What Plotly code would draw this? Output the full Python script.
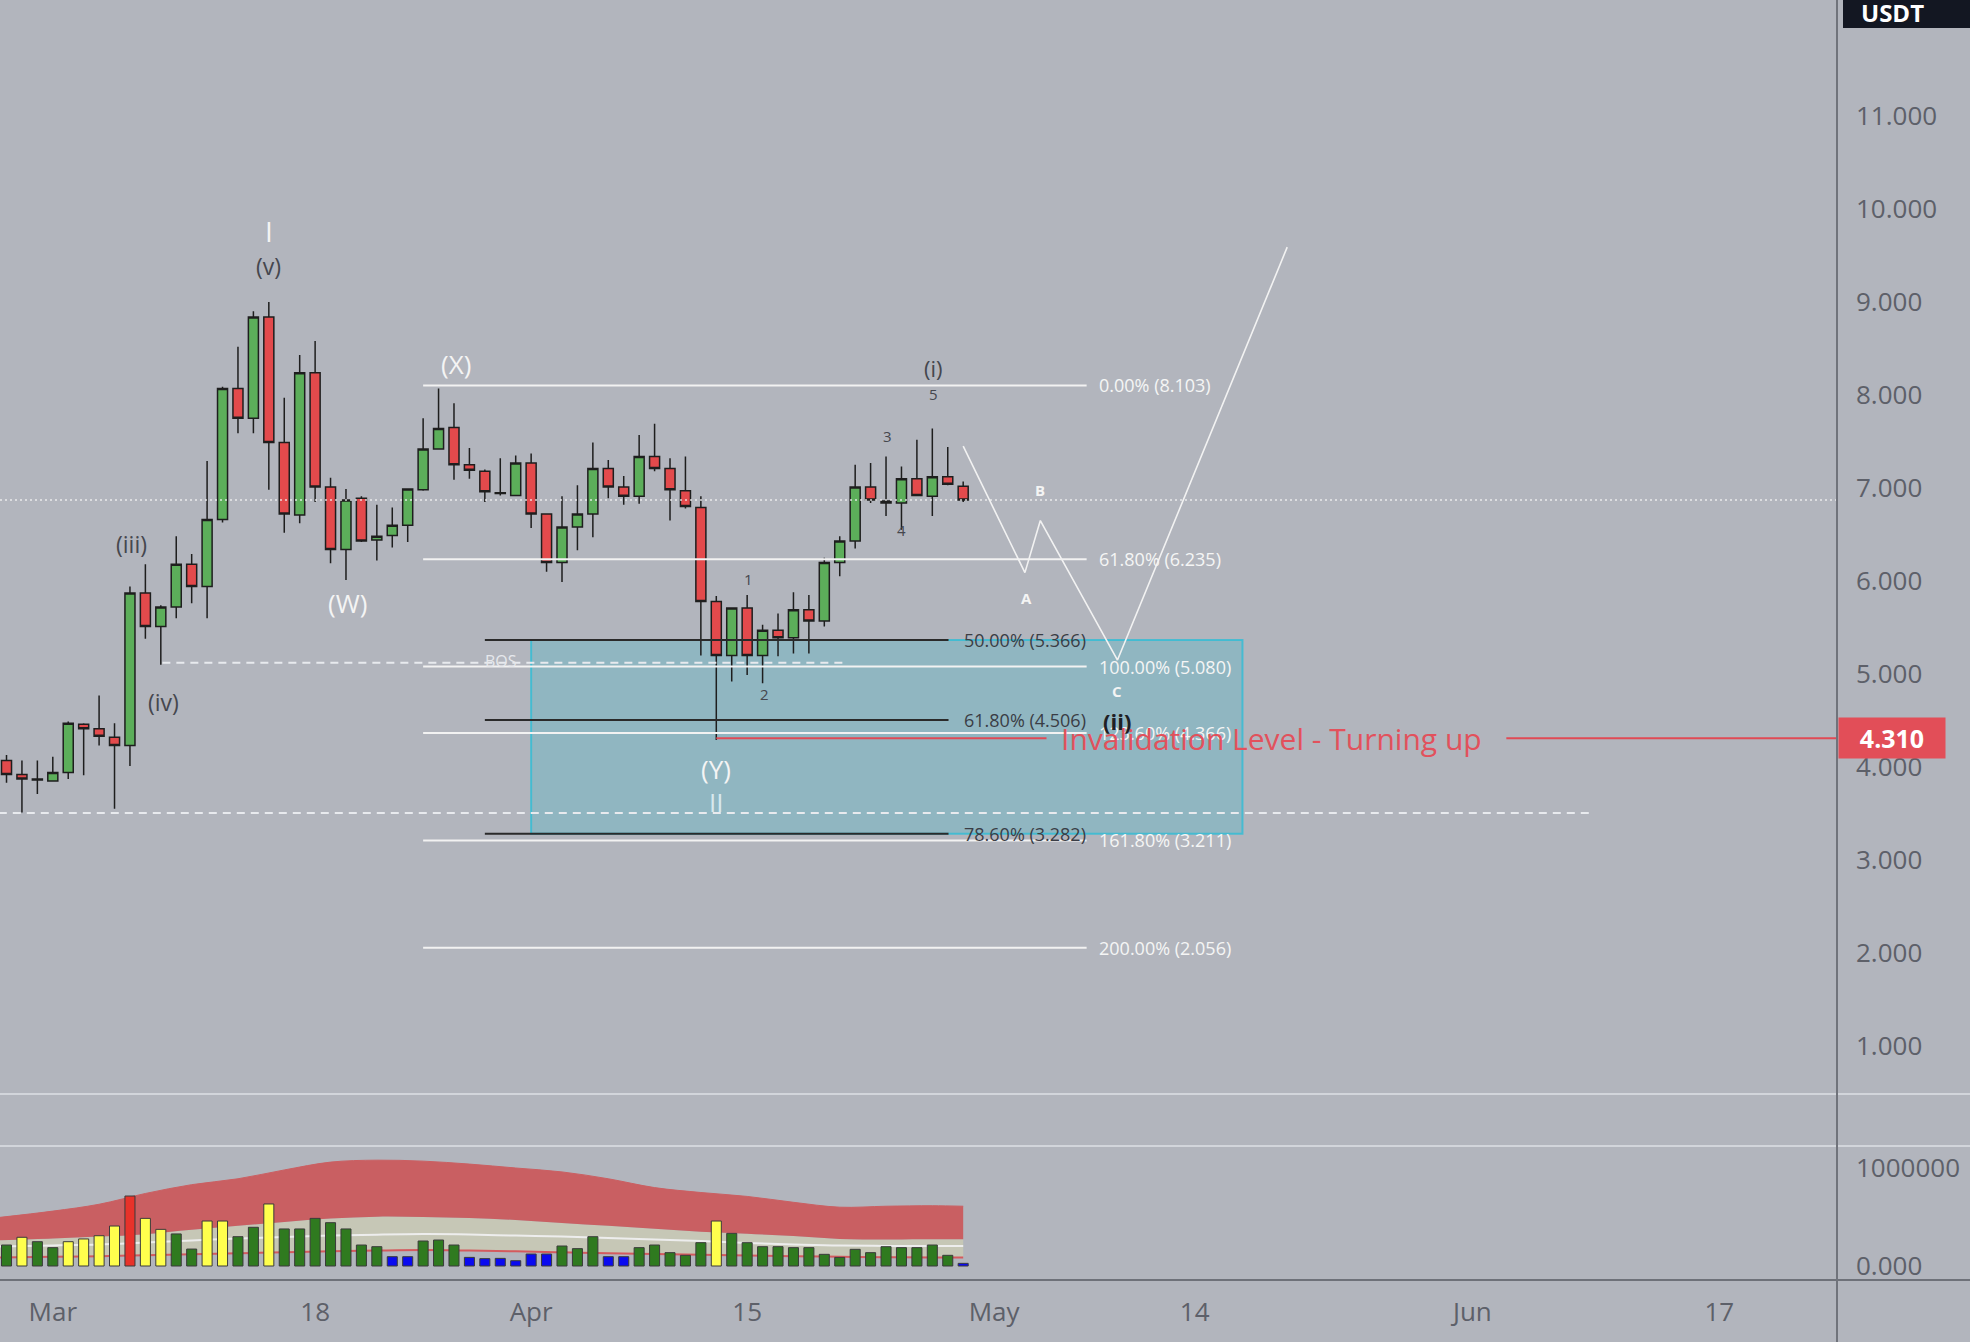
import pandas as pd
import plotly.graph_objects as go

# ---------------- data ----------------
START = "2024-02-27"          # first visible daily candle
MAR1 = pd.Timestamp("2024-03-01")

opens = [4.07, 3.92, 3.87, 3.85, 3.94, 4.46, 4.41, 4.32, 4.23, 5.87, 5.51, 5.72, 6.18, 5.94, 6.66, 8.07,
         7.75, 8.84, 7.49, 6.71, 8.24, 7.01, 6.34, 6.89, 6.44, 6.49, 6.60, 6.98, 7.42, 7.65, 7.25, 7.18,
         6.95, 6.92, 7.27, 6.72, 6.20, 6.58, 6.72, 7.21, 7.01, 6.91, 7.34, 7.21, 6.97, 6.79, 5.78, 5.20,
         5.71, 5.20, 5.47, 5.39, 5.69, 5.57, 6.20, 6.43, 7.01, 6.86, 6.84, 7.10, 6.91, 7.12, 7.02]
highs = [4.13, 4.07, 4.07, 4.11, 4.49, 4.47, 4.77, 4.47, 5.94, 6.18, 5.74, 6.48, 6.29, 7.29, 8.09, 8.52,
         8.90, 9.00, 7.97, 8.43, 8.58, 7.11, 6.99, 6.91, 6.82, 6.79, 6.99, 7.75, 8.07, 7.91, 7.43, 7.20,
         7.32, 7.35, 7.37, 6.72, 6.91, 7.03, 7.49, 7.30, 7.13, 7.57, 7.69, 7.32, 7.34, 6.91, 5.84, 5.71,
         5.85, 5.53, 5.65, 5.88, 5.85, 6.25, 6.48, 7.25, 7.27, 7.34, 7.23, 7.52, 7.64, 7.44, 7.07]
lows = [3.83, 3.51, 3.71, 3.85, 3.87, 3.91, 4.23, 3.55, 4.01, 5.38, 5.10, 5.60, 5.76, 5.60, 6.63, 7.59,
        7.59, 6.98, 6.52, 6.62, 6.85, 6.19, 6.01, 6.42, 6.22, 6.36, 6.42, 6.97, 7.41, 7.09, 7.10, 6.85,
        6.92, 6.91, 6.57, 6.10, 5.99, 6.33, 6.47, 6.89, 6.82, 6.83, 7.18, 6.65, 6.78, 5.20, 4.29, 4.92,
        4.99, 4.90, 5.19, 5.22, 5.22, 5.51, 6.05, 6.35, 6.84, 6.70, 6.55, 6.91, 6.70, 7.03, 6.85]
closes = [3.92, 3.87, 3.86, 3.94, 4.47, 4.41, 4.33, 4.23, 5.87, 5.51, 5.72, 6.18, 5.94, 6.66, 8.07, 7.75,
          8.84, 7.49, 6.72, 8.24, 7.01, 6.34, 6.87, 6.43, 6.48, 6.60, 6.99, 7.42, 7.64, 7.25, 7.19, 6.96,
          6.94, 7.27, 6.72, 6.20, 6.58, 6.72, 7.21, 7.01, 6.91, 7.34, 7.21, 6.98, 6.80, 5.78, 5.20, 5.71,
          5.20, 5.47, 5.39, 5.69, 5.57, 6.20, 6.43, 7.01, 6.87, 6.84, 7.10, 6.92, 7.12, 7.04, 6.87]
volumes = [214000, 293000, 248000, 187000, 248000, 276000, 309000, 408000, 714000, 486000, 374000,
           327000, 173000, 459000, 459000, 299000, 395000, 633000, 378000, 378000, 486000, 442000,
           378000, 214000, 197000, 95000, 95000, 255000, 265000, 214000, 88000, 75000, 78000, 54000,
           122000, 122000, 204000, 177000, 299000, 95000, 95000, 187000, 214000, 136000, 109000,
           238000, 459000, 333000, 238000, 197000, 197000, 187000, 187000, 119000, 88000, 170000,
           136000, 197000, 187000, 187000, 214000, 109000, 27000]
vol_kind = ["g", "y", "g", "g", "y", "y", "y", "y", "r", "y", "y", "g", "g", "y", "y", "g", "g", "y",
            "g", "g", "g", "g", "g", "g", "g", "b", "b", "g", "g", "g", "b", "b", "b", "b", "b", "b",
            "g", "g", "g", "b", "b", "g", "g", "g", "g", "g", "y", "g", "g", "g", "g", "g", "g", "g",
            "g", "g", "g", "g", "g", "g", "g", "g", "b"]

# volume band indicator (day offsets from Mar 1), values in volume units
band_days = [-3.5, 0, 3, 6, 9, 12, 15, 18, 21, 24, 27, 30, 33, 36, 39, 42, 45, 48, 51, 54, 57, 59]
band_upper = [495000, 560000, 630000, 740000, 830000, 890000, 980000, 1060000, 1080000, 1070000, 1040000,
              1000000, 960000, 890000, 800000, 750000, 710000, 650000, 600000, 610000, 615000, 610000]
band_mid = [263000, 280000, 300000, 325000, 370000, 410000, 450000, 485000, 503000, 500000, 490000,
            470000, 440000, 410000, 380000, 350000, 330000, 305000, 275000, 270000, 272000, 272000]
band_avg = [198000, 210000, 220000, 240000, 260000, 280000, 295000, 310000, 320000, 326000, 322000,
            310000, 300000, 285000, 270000, 255000, 235000, 220000, 208000, 205000, 204000, 204000]
band_lower = [87000, 95000, 100000, 110000, 120000, 130000, 140000, 150000, 158000, 163000, 158000,
              150000, 140000, 129000, 122000, 115000, 108000, 100000, 95000, 90000, 88000, 88000]

# Fibonacci levels
fib_right_levels = [8.103, 6.235, 5.080, 4.366, 3.211, 2.056]
fib_right_labels = ["0.00% (8.103)", "61.80% (6.235)", "100.00% (5.080)", "123.60% (4.366)",
                    "161.80% (3.211)", "200.00% (2.056)"]
fib_left_levels = [5.366, 4.506, 3.282]
fib_left_labels = ["50.00% (5.366)", "61.80% (4.506)", "78.60% (3.282)"]

# projected A-B-C path (day offset, price)
proj_days = [59, 63, 64, 69, 80]
proj_prices = [7.45, 6.09, 6.65, 5.15, 9.59]

invalidation = 4.310
bos_level = 5.12
support_level = 3.505

price_ticks = [1, 2, 3, 4, 5, 6, 7, 8, 9, 10, 11]
date_ticks = ["2024-03-01", "2024-03-18", "2024-04-01", "2024-04-15", "2024-05-01",
              "2024-05-14", "2024-06-01", "2024-06-17"]
date_ticktext = ["Mar", "18", "Apr", "15", "May", "14", "Jun", "17"]

# ---------------- helpers ----------------
BG = "#B2B5BD"
FONT = "Open Sans"
AXIS_TXT = "#5D6069"
DARK_LBL = "#45474E"


def d(k):
    return (MAR1 + pd.Timedelta(days=k)).strftime("%Y-%m-%d %H:%M:%S")


dates = pd.date_range(START, periods=len(opens), freq="D")
band_x = [d(k) for k in band_days]
vol_cmap = {"g": "#2F7A1F", "y": "#FFFF4D", "r": "#E8322A", "b": "#0A0AF0"}

fig = go.Figure()

# volume bands (y2)
fig.add_trace(go.Scatter(x=band_x, y=band_lower, mode="lines", line=dict(color="#D45A5E", width=2, shape="spline"),
                         yaxis="y2", hoverinfo="skip"))
fig.add_trace(go.Scatter(x=band_x, y=band_mid, mode="lines", line=dict(color="#C6C7B6", width=0, shape="spline"),
                         fill="tonexty", fillcolor="#C6C7B6", yaxis="y2", hoverinfo="skip"))
fig.add_trace(go.Scatter(x=band_x, y=band_upper, mode="lines", line=dict(color="#CB5F62", width=1, shape="spline"),
                         fill="tonexty", fillcolor="#C95F62", yaxis="y2", hoverinfo="skip"))
fig.add_trace(go.Scatter(x=band_x, y=band_avg, mode="lines", line=dict(color="#EDEDED", width=2, shape="spline"),
                         yaxis="y2", hoverinfo="skip"))
# volume bars on an overlaying axis so they sit above the bands
fig.add_trace(go.Bar(x=dates, y=volumes, marker=dict(color=[vol_cmap[c] for c in vol_kind],
                                                     line=dict(color="#3A3A3A", width=1)),
                     yaxis="y3", hoverinfo="skip"))

# candles
fig.add_trace(go.Candlestick(x=dates, open=opens, high=highs, low=lows, close=closes,
                             increasing=dict(fillcolor="#5CAE5A", line=dict(color="#1E1E1E", width=1.5)),
                             decreasing=dict(fillcolor="#E34A4C", line=dict(color="#1E1E1E", width=1.5)),
                             whiskerwidth=0, yaxis="y", hoverinfo="skip"))

# projection path
fig.add_trace(go.Scatter(x=[d(k) for k in proj_days], y=proj_prices, mode="lines",
                         line=dict(color="#F2F2F2", width=1.6), yaxis="y", hoverinfo="skip"))

shapes = []
# zone box
shapes.append(dict(type="rect", xref="x", yref="y", x0=d(31), x1=d(77.1), y0=fib_left_levels[2],
                   y1=fib_left_levels[0], fillcolor="rgba(0,188,212,0.19)",
                   line=dict(color="rgba(40,190,215,0.75)", width=2), layer="below"))
# right fib lines
for lv in fib_right_levels:
    shapes.append(dict(type="line", xref="x", yref="y", x0=d(24), x1=d(67), y0=lv, y1=lv,
                       line=dict(color="#F2F2F2", width=2)))
# left fib lines
for lv in fib_left_levels:
    shapes.append(dict(type="line", xref="x", yref="y", x0=d(28), x1=d(58.05), y0=lv, y1=lv,
                       line=dict(color="#2A2A2A", width=2)))
# BOS dashed
shapes.append(dict(type="line", xref="x", yref="y", x0=d(7.1), x1=d(51.2), y0=bos_level, y1=bos_level,
                   line=dict(color="#E8EAEE", width=2, dash="8px,6px")))
# lower dashed support
shapes.append(dict(type="line", xref="x", yref="y", x0=d(-3.5), x1=d(99.6), y0=support_level, y1=support_level,
                   line=dict(color="#E8EAEE", width=2, dash="8px,6px")))
# current price dotted line
shapes.append(dict(type="line", xref="paper", yref="y", x0=0, x1=1, y0=closes[-1], y1=closes[-1],
                   line=dict(color="rgba(245,245,245,0.85)", width=1.5, dash="2px,3px")))
# invalidation line segments
shapes.append(dict(type="line", xref="x", yref="y", x0=d(43), x1=d(64.4), y0=invalidation, y1=invalidation,
                   line=dict(color="#E04A55", width=2)))
shapes.append(dict(type="line", xref="x", yref="y", x0=d(94.2), x1=d(116), y0=invalidation, y1=invalidation,
                   line=dict(color="#E04A55", width=2)))
# pane separators & axis lines
PH = 1280.0
shapes.append(dict(type="line", xref="paper", yref="paper", x0=0, x1=1.08, y0=(PH - 1094) / PH, y1=(PH - 1094) / PH,
                   line=dict(color="#D2D5DB", width=2)))
shapes.append(dict(type="line", xref="paper", yref="paper", x0=0, x1=1.08, y0=(PH - 1146) / PH, y1=(PH - 1146) / PH,
                   line=dict(color="#D2D5DB", width=2)))
shapes.append(dict(type="line", xref="paper", yref="paper", x0=0, x1=1.08, y0=0, y1=0,
                   line=dict(color="#6E7179", width=2)))
shapes.append(dict(type="line", xref="paper", yref="paper", x0=1, x1=1, y0=-0.06, y1=1.01,
                   line=dict(color="#70737B", width=2)))
# USDT box
shapes.append(dict(type="rect", xref="paper", yref="paper", x0=1843 / 1837, x1=1.08, y0=1 - 28 / PH, y1=1.02,
                   fillcolor="#131722", line=dict(width=0)))

ann = []
for lv, t in zip(fib_right_levels, fib_right_labels):
    ann.append(dict(x=d(67.7), y=lv, text=t, xanchor="left", yanchor="middle", showarrow=False,
                    font=dict(family=FONT, size=18, color="#F5F5F5")))
for lv, t in zip(fib_left_levels, fib_left_labels):
    ann.append(dict(x=d(58.9), y=lv, text=t, xanchor="left", yanchor="middle", showarrow=False,
                    font=dict(family=FONT, size=18, color="#3A3D45")))

wave = [  # (day, price, text, color, size)
    (14, 9.76, "I", "#F4F4F4", 28),
    (14, 9.39, "(v)", DARK_LBL, 23),
    (5.1, 6.40, "(iii)", DARK_LBL, 23),
    (7.2, 4.70, "(iv)", DARK_LBL, 23),
    (19.1, 5.76, "(W)", "#F4F4F4", 26),
    (26.1, 8.33, "(X)", "#F4F4F4", 26),
    (43, 3.98, "(Y)", "#F4F4F4", 26),
    (43, 3.62, "II", "#D8E8EE", 26),
    (57.1, 8.29, "(i)", DARK_LBL, 22),
    (57.1, 8.01, "5", DARK_LBL, 15),
    (54.1, 7.56, "3", DARK_LBL, 15),
    (55, 6.55, "4", DARK_LBL, 15),
    (45.1, 6.02, "1", DARK_LBL, 15),
    (46.1, 4.79, "2", DARK_LBL, 15),
    (63.1, 5.82, "<b>A</b>", "#F4F4F4", 15),
    (64, 6.98, "<b>B</b>", "#F4F4F4", 15),
    (69, 4.82, "<b>C</b>", "#F4F4F4", 15),
    (69, 4.49, "<b>(ii)</b>", "#1F2024", 22),
    (29.05, 5.14, "BOS", "#E6E8EC", 16),
]
for k, p, t, c, s in wave:
    ann.append(dict(x=d(k), y=p, text=t, showarrow=False, xanchor="center", yanchor="middle",
                    font=dict(family=FONT, size=s, color=c)))

ann.append(dict(x=d(79.0), y=invalidation, text="Invalidation Level - Turning up", showarrow=False,
                xanchor="center", yanchor="middle", font=dict(family=FONT, size=30, color="#E2515C")))
ann.append(dict(xref="paper", x=1838 / 1837, yref="y", y=invalidation, text="<b>4.310</b>", showarrow=False,
                xanchor="left", yanchor="middle", bgcolor="#E24E58", width=104, height=38,
                font=dict(family=FONT, size=25, color="white")))
ann.append(dict(xref="paper", x=1893 / 1837, yref="paper", y=1 - 13 / PH, text="<b>USDT</b>", showarrow=False,
                xanchor="center", yanchor="middle", font=dict(family=FONT, size=24, color="white")))

x_left = (MAR1 + pd.Timedelta(days=-3.422)).strftime("%Y-%m-%d %H:%M:%S")
x_right = (MAR1 + pd.Timedelta(days=115.63)).strftime("%Y-%m-%d %H:%M:%S")
vol_range = [-14 / 98 * 1e6, 120 / 98 * 1e6]
vol_domain = [0, (PH - 1146) / PH]

fig.update_layout(
    width=1970, height=1342,
    margin=dict(l=0, r=133, t=0, b=62),
    paper_bgcolor=BG, plot_bgcolor=BG,
    showlegend=False, bargap=0.35, boxgap=0.35, boxgroupgap=0,
    shapes=shapes, annotations=ann,
    font=dict(family=FONT, color=AXIS_TXT),
    xaxis=dict(type="date", range=[x_left, x_right], domain=[0, 1], anchor="y2",
               tickvals=date_ticks, ticktext=date_ticktext, showgrid=False, zeroline=False,
               showline=False, ticks="", tickfont=dict(family=FONT, size=26, color=AXIS_TXT),
               ticklabelstandoff=14, rangeslider=dict(visible=False), fixedrange=True),
    yaxis=dict(domain=[(PH - 1094) / PH, 1], range=[(1139 - 1094) / 93, 1139 / 93], anchor="x",
               side="right", tickvals=price_ticks, ticktext=["%.3f" % v for v in price_ticks],
               showgrid=False, zeroline=False, showline=False, ticks="",
               tickfont=dict(family=FONT, size=26, color=AXIS_TXT), ticklabelstandoff=18),
    yaxis2=dict(domain=vol_domain, range=vol_range, anchor="x",
                side="right", tickvals=[0, 1000000], ticktext=["0.000", "1000000"],
                showgrid=False, zeroline=False, showline=False, ticks="",
                tickfont=dict(family=FONT, size=26, color=AXIS_TXT), ticklabelstandoff=18),
    yaxis3=dict(overlaying="y2", range=vol_range, anchor="x", side="right",
                showticklabels=False, showgrid=False, zeroline=False, showline=False, ticks=""),
)

fig.write_html("out.html", config={"displayModeBar": False},
               post_script="document.body.style.margin='0';")
